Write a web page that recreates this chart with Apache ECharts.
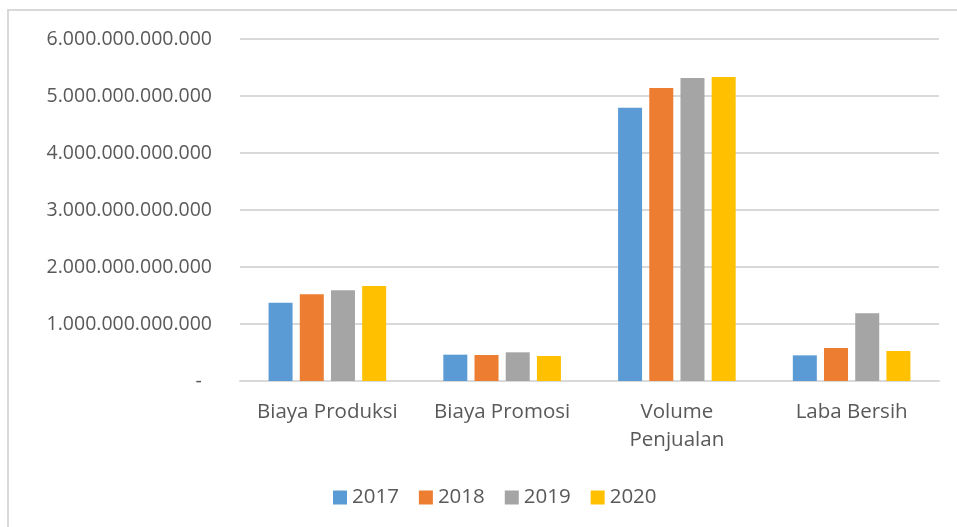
<!DOCTYPE html>
<html>
<head>
<meta charset="utf-8">
<script src="https://cdn.jsdelivr.net/npm/echarts@6/dist/echarts.min.js"></script>
<style>
    html, body { margin: 0; padding: 0; background: #fff; }
    #chart { width: 957px; height: 527px; }
</style>
</head>
<body>
<div id="chart"></div>
<script>
    // data
    const categories = ['Biaya Produksi', 'Biaya Promosi', 'Volume\nPenjualan', 'Laba Bersih'];
    const years = ['2017', '2018', '2019', '2020'];
    const v2017 = [1.374e12, 0.462e12, 4.795e12, 0.450e12];
    const v2018 = [1.520e12, 0.456e12, 5.140e12, 0.579e12];
    const v2019 = [1.590e12, 0.503e12, 5.316e12, 1.188e12];
    const v2020 = [1.667e12, 0.439e12, 5.333e12, 0.526e12];
    const colors = ['#5b9bd5', '#ed7d31', '#a5a5a5', '#ffc000'];

    const font = '"Open Sans", "Noto Sans", sans-serif';

    function fmt(v){
        if (v === 0) return '-  ';
        return String(Math.round(v)).replace(/\B(?=(\d{3})+(?!\d))/g, '.');
    }

    const seriesData = [v2017, v2018, v2019, v2020];

    let chart = echarts.init(document.getElementById('chart'));
    chart.setOption({
        animation: false,
        color: colors,
        graphic: [{
            type: 'rect',
            silent: true,
            shape: { x: 8, y: 10, width: 1000, height: 600 },
            style: { fill: null, stroke: '#d9d9d9', lineWidth: 2 }
        }],
        grid: {
            left: 240,
            right: 18,
            top: 39,
            bottom: 146
        },
        legend: {
            data: years,
            top: 482,
            left: 328,
            icon: 'rect',
            itemWidth: 14,
            itemHeight: 14,
            itemGap: 20,
            textStyle: { color: '#595959', fontSize: 20.5, fontFamily: font }
        },
        xAxis: {
            type: 'category',
            data: categories,
            axisTick: { show: false },
            axisLine: { lineStyle: { color: '#d9d9d9', width: 2 } },
            axisLabel: {
                interval: 0,
                hideOverlap: false,
                color: '#595959',
                fontSize: 20.5,
                fontFamily: font,
                margin: 17,
                lineHeight: 28
            }
        },
        yAxis: {
            type: 'value',
            min: 0,
            max: 6e12,
            interval: 1e12,
            axisLine: { show: false },
            axisTick: { show: false },
            splitLine: { lineStyle: { color: '#d9d9d9', width: 2 } },
            axisLabel: {
                color: '#595959',
                fontSize: 19.5,
                fontFamily: font,
                margin: 28,
                formatter: fmt
            }
        },
        series: years.map((y, i) => ({
            name: y,
            type: 'bar',
            data: seriesData[i],
            barWidth: 24,
            barGap: '30%'
        }))
    });
</script>
</body>
</html>
